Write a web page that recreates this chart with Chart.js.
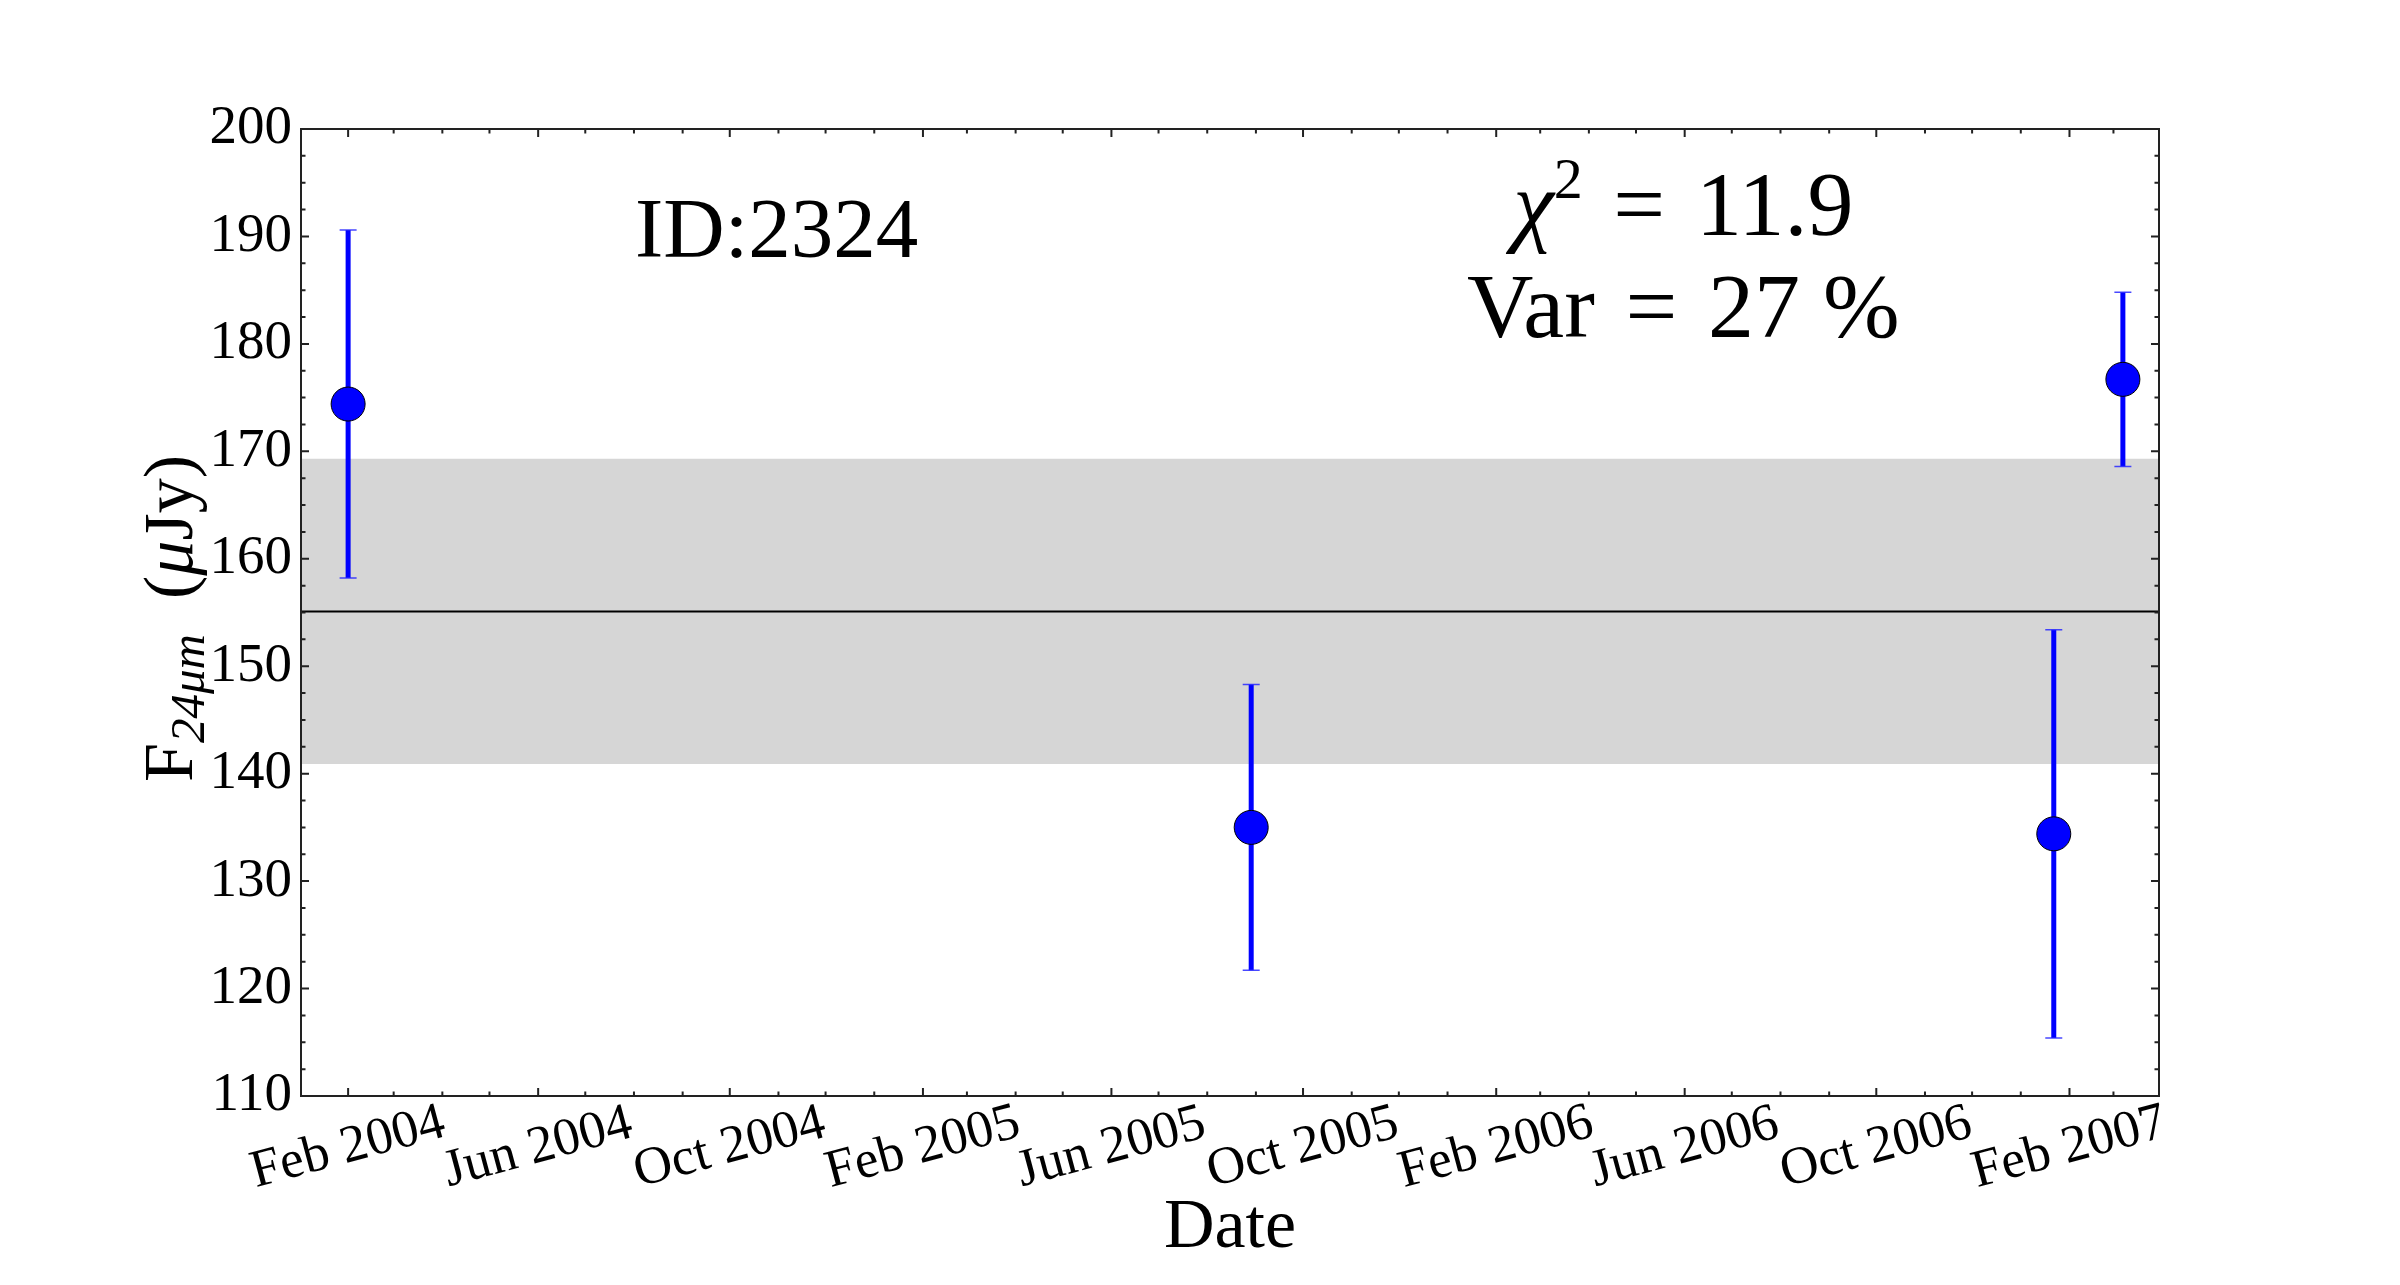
<!DOCTYPE html>
<html>
<head>
<meta charset="utf-8">
<script src="https://cdn.jsdelivr.net/npm/chart.js@4"></script>
<style>
  html, body { margin: 0; padding: 0; background: #fff; }
  #fluxChart { display: block; }
</style>
</head>
<body>
<canvas id="fluxChart" width="2400" height="1285"></canvas>
<script>
// 24 micron photometry, one point per epoch
const obsDates = ['2004-02-01', '2005-08-29', '2007-01-22', '2007-03-07'];
const fluxValues = [174.4, 135.0, 134.4, 176.7];
const fluxErrors = [16.2, 13.3, 19.0, 8.1];

// mean flux and the grey band round it
const meanFlux = 155.1;
const bandLimits = [140.9, 169.3];

// axes
const dateRange = ['2004-01-02', '2007-03-30'];
const fluxRange = [110, 200];
const tickDates = ['2004-02-01', '2004-06-01', '2004-10-01', '2005-02-01', '2005-06-01',
                   '2005-10-01', '2006-02-01', '2006-06-01', '2006-10-01', '2007-02-01'];
const tickLabels = ['Feb 2004', 'Jun 2004', 'Oct 2004', 'Feb 2005', 'Jun 2005',
                    'Oct 2005', 'Feb 2006', 'Jun 2006', 'Oct 2006', 'Feb 2007'];

// annotations
const idText = 'ID:2324';
const chiSquare = '11.9';
const variability = '27 %';

const SERIF = "'Liberation Serif', 'Times New Roman', serif";
const ms = d => Date.parse(d);

document.addEventListener('DOMContentLoaded', () => {
  const xMin = ms(dateRange[0]);
  const xMax = ms(dateRange[1]);

  const points = obsDates.map((d, i) => ({ x: ms(d), y: fluxValues[i] }));

  // draws pieces of text with different fonts / offsets along one baseline
  function drawRuns(ctx, runs, x, y, align) {
    let total = 0;
    runs.forEach(r => { ctx.font = r.font; r.w = ctx.measureText(r.text).width; total += r.w; });
    let cx = align === 'center' ? x - total / 2 : x;
    runs.forEach(r => {
      ctx.font = r.font;
      ctx.fillText(r.text, cx, y + (r.dy || 0));
      cx += r.w;
    });
  }

  const errorBars = {
    id: 'errorBars',
    beforeDatasetDraw(chart, args) {
      if (args.index !== 0) return;
      const ctx = chart.ctx;
      const ys = chart.scales.y;
      const meta = chart.getDatasetMeta(0);
      ctx.save();
      meta.data.forEach((pt, i) => {
        const yTop = ys.getPixelForValue(fluxValues[i] + fluxErrors[i]);
        const yBot = ys.getPixelForValue(fluxValues[i] - fluxErrors[i]);
        ctx.strokeStyle = '#0000ff';
        ctx.lineWidth = 5;
        ctx.beginPath();
        ctx.moveTo(pt.x, yTop);
        ctx.lineTo(pt.x, yBot);
        ctx.stroke();
        ctx.strokeStyle = 'rgba(40, 40, 255, 0.85)';
        ctx.lineWidth = 1.5;
        ctx.beginPath();
        ctx.moveTo(pt.x - 8.5, yTop); ctx.lineTo(pt.x + 8.5, yTop);
        ctx.moveTo(pt.x - 8.5, yBot); ctx.lineTo(pt.x + 8.5, yBot);
        ctx.stroke();
      });
      ctx.restore();
    }
  };

  const frameAndText = {
    id: 'frameAndText',
    afterDraw(chart) {
      const ctx = chart.ctx;
      const { left, right, top, bottom } = chart.chartArea;
      const xs = chart.scales.x;
      const ys = chart.scales.y;
      const w = right - left;
      const h = bottom - top;

      ctx.save();
      ctx.strokeStyle = '#222';
      ctx.lineWidth = 2;
      ctx.strokeRect(left, top, w, h);

      // inward ticks on all four sides
      const tick = (x1, y1, x2, y2) => { ctx.moveTo(x1, y1); ctx.lineTo(x2, y2); };
      ctx.beginPath();
      for (let v = fluxRange[0]; v <= fluxRange[1]; v += 2.5) {
        const y = ys.getPixelForValue(v);
        const len = v % 10 === 0 ? 8 : 4.5;
        tick(left, y, left + len, y);
        tick(right, y, right - len, y);
      }
      const majors = xs.ticks.map(t => t.value);
      const start = new Date(xMin);
      for (let yr = start.getUTCFullYear(), mo = start.getUTCMonth(); ; mo++) {
        const t = Date.UTC(yr, mo, 1);
        if (t > xMax) break;
        if (t < xMin) continue;
        const x = xs.getPixelForValue(t);
        const len = majors.includes(t) ? 8 : 4.5;
        tick(x, bottom, x, bottom - len);
        tick(x, top, x, top + len);
      }
      ctx.stroke();

      // date labels, centred on the tick and tilted
      ctx.fillStyle = '#000';
      ctx.font = '53px ' + SERIF;
      ctx.textAlign = 'center';
      ctx.textBaseline = 'middle';
      xs.ticks.forEach((t, i) => {
        ctx.save();
        ctx.translate(xs.getPixelForValue(t.value), bottom + 52);
        ctx.rotate(-15 * Math.PI / 180);
        ctx.fillText(tickLabels[i], 0, 0);
        ctx.restore();
      });

      // y axis title with subscript
      ctx.textAlign = 'left';
      ctx.textBaseline = 'alphabetic';
      ctx.save();
      ctx.translate(left - 109, (top + bottom) / 2 + 6);
      ctx.rotate(-Math.PI / 2);
      drawRuns(ctx, [
        { text: 'F', font: '70px ' + SERIF },
        { text: '24\u03BCm', font: 'italic 49px ' + SERIF, dy: 12 },
        { text: '  (', font: '70px ' + SERIF },
        { text: '\u03BC', font: 'italic 70px ' + SERIF },
        { text: 'Jy)', font: '70px ' + SERIF }
      ], 0, 0, 'center');
      ctx.restore();

      // annotations inside the axes
      drawRuns(ctx, [{ text: idText, font: '85px ' + SERIF }],
        left + 0.256 * w, top + 0.132 * h, 'center');
      drawRuns(ctx, [
        { text: '\u03C7', font: 'italic 92px ' + SERIF },
        { text: '2', font: '58px ' + SERIF, dy: -37 },
        { text: '\u200A = \u200A' + chiSquare, font: '92px ' + SERIF }
      ], left + 0.744 * w, top + 0.110 * h, 'center');
      drawRuns(ctx, [{ text: 'Var\u200A = \u200A' + variability, font: '92px ' + SERIF }],
        left + 0.744 * w, top + 0.215 * h, 'center');
      ctx.restore();
    }
  };

  const fluxConfig = {
    type: 'line',
    data: {
      datasets: [{
        label: 'F24',
        data: points,
        showLine: false,
        pointRadius: 17,
        pointHoverRadius: 17,
        pointBackgroundColor: '#0000ff',
        pointBorderColor: '#000',
        pointBorderWidth: 1
      }, {
        label: 'mean',
        data: [{ x: xMin, y: meanFlux }, { x: xMax, y: meanFlux }],
        borderColor: '#000',
        borderWidth: 2,
        pointRadius: 0
      }, {
        label: 'band high',
        data: [{ x: xMin, y: bandLimits[1] }, { x: xMax, y: bandLimits[1] }],
        borderColor: 'transparent',
        borderWidth: 0,
        pointRadius: 0,
        backgroundColor: '#d6d6d6',
        fill: '+1'
      }, {
        label: 'band low',
        data: [{ x: xMin, y: bandLimits[0] }, { x: xMax, y: bandLimits[0] }],
        borderColor: 'transparent',
        borderWidth: 0,
        pointRadius: 0,
        fill: false
      }]
    },
    options: {
      responsive: false,
      animation: false,
      events: [],
      layout: { padding: { top: 129, right: 241, bottom: 0, left: 0 } },
      scales: {
        x: {
          type: 'linear',
          min: xMin,
          max: xMax,
          afterBuildTicks: scale => { scale.ticks = tickDates.map(d => ({ value: ms(d) })); },
          afterFit: scale => { scale.height = 189; },
          grid: { display: false },
          border: { display: false },
          ticks: { display: false },
          title: {
            display: true,
            text: 'Date',
            color: '#000',
            font: { family: SERIF, size: 70, lineHeight: 1 },
            padding: { top: 0, bottom: 21 }
          }
        },
        y: {
          min: fluxRange[0],
          max: fluxRange[1],
          afterFit: scale => { scale.width = 301; },
          grid: { display: false, drawTicks: false },
          border: { display: false },
          ticks: {
            stepSize: 10,
            padding: 9,
            color: '#000',
            font: { family: SERIF, size: 55 }
          }
        }
      },
      plugins: {
        legend: { display: false },
        tooltip: { enabled: false }
      }
    },
    plugins: [errorBars, frameAndText]
  };

  new Chart(document.getElementById('fluxChart').getContext('2d'), fluxConfig);
});
</script>
</body>
</html>
